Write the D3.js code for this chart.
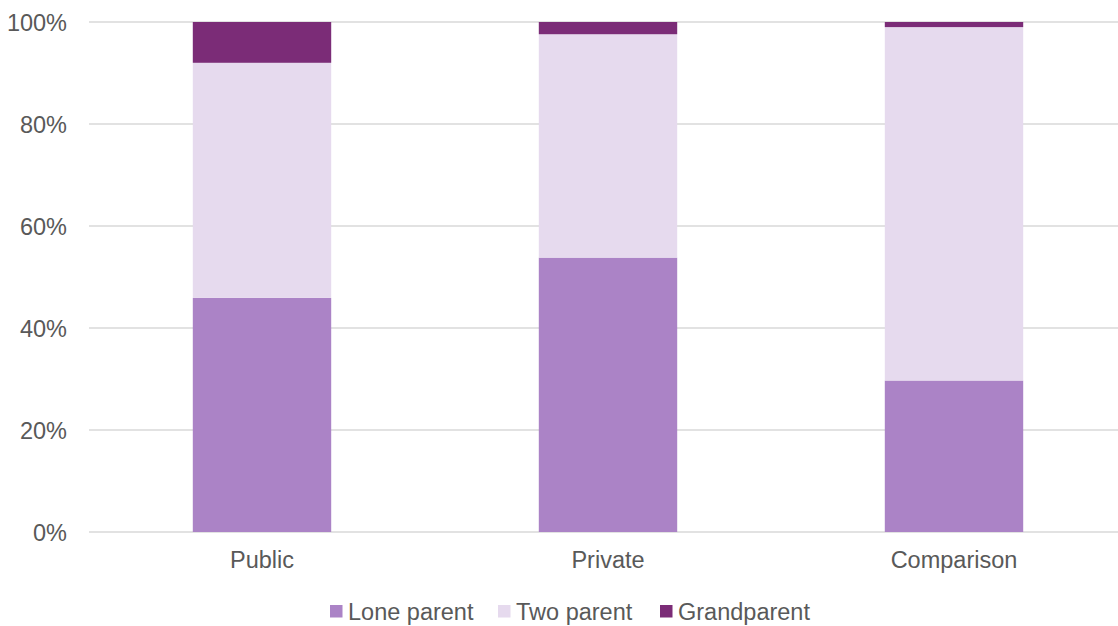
<!DOCTYPE html>
<html><head><meta charset="utf-8">
<script src="https://cdn.jsdelivr.net/npm/d3@7"></script>
<style>body{margin:0;background:#fff}svg{display:block}text{font-family:"Liberation Sans",Arial,sans-serif;fill:#595959}</style>
</head><body><svg id="c" width="1118" height="626"></svg>
<script>
const categories = ["Public", "Private", "Comparison"];
const seriesNames = ["Lone parent", "Two parent", "Grandparent"];
const lone = [45.9, 53.8, 29.7];
const two = [46.1, 43.8, 69.3];
const grand = [8.0, 2.4, 1.0];
const yTicks = [0, 20, 40, 60, 80, 100];
const colors = ["#AB83C6", "#E6DAEE", "#7B2C77"];

const svg = d3.select("#c");
const x = d3.scaleBand().domain(categories).range([89, 1127]).paddingInner(0.6).paddingOuter(0.3);
const y = d3.scaleLinear().domain([0, 100]).range([532, 22]);
const fs = 23.5;

// grid
svg.append("g").selectAll("line").data(yTicks).join("line")
  .attr("x1", 89).attr("x2", 1127)
  .attr("y1", d => y(d)).attr("y2", d => y(d))
  .attr("stroke", "#D9D9D9").attr("stroke-width", 1.5);

// y labels
svg.append("g").selectAll("text").data(yTicks).join("text")
  .attr("x", 67).attr("y", d => y(d) + 0.8).attr("dy", "0.35em")
  .attr("text-anchor", "end").attr("font-size", fs).text(d => d + "%");

const table = categories.map((c, i) => ({cat: c, "Lone parent": lone[i], "Two parent": two[i], "Grandparent": grand[i]}));
const stacked = d3.stack().keys(seriesNames)(table);

svg.append("g").selectAll("g").data(stacked).join("g")
  .attr("fill", (d, i) => colors[i])
  .selectAll("rect").data(d => d).join("rect")
  .attr("x", d => x(d.data.cat)).attr("width", x.bandwidth())
  .attr("y", d => y(d[1])).attr("height", d => y(d[0]) - y(d[1]));

// x labels
svg.append("g").selectAll("text").data(categories).join("text")
  .attr("x", d => x(d) + x.bandwidth() / 2).attr("y", 559.5).attr("dy", "0.35em")
  .attr("text-anchor", "middle").attr("font-size", fs).text(d => d);

// legend
const legX = [330, 498, 660];
const lg = svg.append("g").selectAll("g").data(seriesNames).join("g")
  .attr("transform", (d, i) => `translate(${legX[i]},611.5)`);
lg.append("rect").attr("x", 0).attr("y", -6.5).attr("width", 12.5).attr("height", 12.5).attr("fill", (d, i) => colors[i]);
lg.append("text").attr("x", 18).attr("y", 0).attr("dy", "0.35em").attr("font-size", fs).text(d => d);
</script></body></html>
